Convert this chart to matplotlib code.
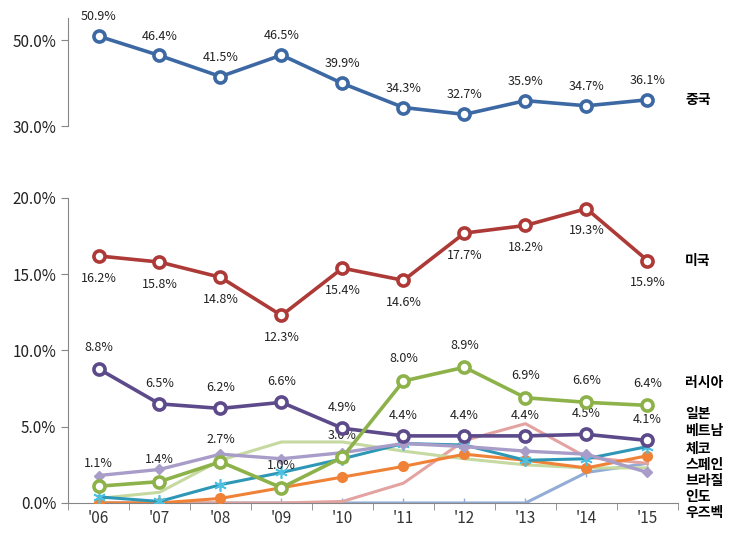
import matplotlib
matplotlib.use('Agg')
import matplotlib.pyplot as plt

plt.rcParams['font.family'] = ['Noto Sans CJK KR', 'DejaVu Sans']

# data (share of exports, %)
years = ["'06", "'07", "'08", "'09", "'10", "'11", "'12", "'13", "'14", "'15"]
china = [50.9, 46.4, 41.5, 46.5, 39.9, 34.3, 32.7, 35.9, 34.7, 36.1]
usa = [16.2, 15.8, 14.8, 12.3, 15.4, 14.6, 17.7, 18.2, 19.3, 15.9]
russia = [1.1, 1.4, 2.7, 1.0, 3.0, 8.0, 8.9, 6.9, 6.6, 6.4]
japan = [8.8, 6.5, 6.2, 6.6, 4.9, 4.4, 4.4, 4.4, 4.5, 4.1]
lavender = [1.8, 2.2, 3.2, 2.9, 3.3, 3.9, 3.7, 3.4, 3.2, 2.0]
teal = [0.4, 0.1, 1.2, 2.0, 2.9, 3.9, 3.8, 2.8, 2.9, 3.7]
orange = [0.0, 0.0, 0.3, 1.0, 1.7, 2.4, 3.2, 2.8, 2.3, 3.1]
lightgreen = [0.3, 0.7, 2.8, 4.0, 4.0, 3.4, 2.9, 2.5, 2.3, 2.3]
pink = [0.0, 0.0, 0.0, 0.0, 0.1, 1.3, 4.1, 5.2, 3.0, 2.6]
bluegray = [0.0, 0.0, 0.0, 0.0, 0.0, 0.0, 0.0, 0.0, 2.0, 2.6]

right_labels = ['러시아', '일본', '베트남', '체코', '스페인', '브라질', '인도', '우즈벡']
right_label_y = [7.9, 5.85, 4.72, 3.55, 2.5, 1.45, 0.4, -0.65]

x = list(range(len(years)))

fig = plt.figure(figsize=(7.32, 5.45), dpi=100)
ax_top = fig.add_axes([0.0929, 0.7688, 0.8333, 0.198])
ax = fig.add_axes([0.0929, 0.0771, 0.8333, 0.5596])

spine_c = '#868686'
circ = dict(marker='o', markersize=8, markerfacecolor='white', markeredgewidth=2.6)

# top panel: China
ax_top.plot(x, china, color='#3c68a3', lw=2.6, markeredgecolor='#3c68a3', **circ, zorder=5)
for xi, v in zip(x, china):
    ax_top.annotate(f'{v:.1f}%', (xi, v), xytext=(0, 14), textcoords='offset points',
                    ha='center', va='center', fontsize=9, color='#222222')
ax_top.text(9.62, china[-1], '중국', fontsize=10, fontweight='bold', va='center', ha='left')
ax_top.set_xlim(-0.5, 9.5)
ax_top.set_ylim(30, 55.1)
ax_top.set_yticks([30, 50])
ax_top.set_yticklabels(['30.0%', '50.0%'])
ax_top.set_xticks([])
for s in ['top', 'right', 'bottom']:
    ax_top.spines[s].set_visible(False)
ax_top.spines['left'].set_color(spine_c)

# lower panel: minor countries
ax.plot(x, bluegray, color='#93acd6', lw=2.2, marker='|', markersize=7, zorder=2)
ax.plot(x, pink, color='#e3a3a1', lw=2.2, zorder=2)
ax.plot(x, lightgreen, color='#c5d9a0', lw=2.2, zorder=2)
ax.plot(x, orange, color='#ef8236', lw=2.2, marker='o', markersize=7, zorder=3)
ax.plot(x, teal, color='#2f97b6', lw=2.2, marker=(6, 2, 0), markersize=9,
        markeredgewidth=1.2, markeredgecolor='#4bc0e0', zorder=3)
ax.plot(x, lavender, color='#a89cc8', lw=2.4, marker='D', markersize=5, zorder=3)

# USA, Japan, Russia
ax.plot(x, usa, color='#ad3a37', lw=2.6, markeredgecolor='#ad3a37', **circ, zorder=5)
ax.plot(x, japan, color='#5c4a8a', lw=2.6, markeredgecolor='#5c4a8a', **circ, zorder=5)
ax.plot(x, russia, color='#8db24a', lw=2.6, markeredgecolor='#8db24a', **circ, zorder=6)

for xi, v in zip(x, usa):
    ax.annotate(f'{v:.1f}%', (xi, v), xytext=(0, -16), textcoords='offset points',
                ha='center', va='center', fontsize=9, color='#222222')
for xi, v in zip(x, japan):
    ax.annotate(f'{v:.1f}%', (xi, v), xytext=(0, 15), textcoords='offset points',
                ha='center', va='center', fontsize=9, color='#222222')
for xi, v in zip(x, russia):
    ax.annotate(f'{v:.1f}%', (xi, v), xytext=(0, 16), textcoords='offset points',
                ha='center', va='center', fontsize=9, color='#222222')

ax.text(9.62, usa[-1], '미국', fontsize=10, fontweight='bold', va='center', ha='left')
for lbl, yy in zip(right_labels, right_label_y):
    ax.text(9.62, yy, lbl, fontsize=10, fontweight='bold', va='center', ha='left', clip_on=False)

ax.set_xlim(-0.5, 9.5)
ax.set_ylim(0, 20)
ax.set_yticks([0, 5, 10, 15, 20])
ax.set_yticklabels(['0.0%', '5.0%', '10.0%', '15.0%', '20.0%'])
ax.set_xticks(x)
ax.set_xticklabels(years)
ax.set_xticks([i + 0.5 for i in range(-1, 10)], minor=True)
ax.tick_params(axis='x', which='major', length=0, pad=5, labelsize=11, labelcolor='#333333')
ax.tick_params(axis='x', which='minor', length=5, color=spine_c)
for s in ['top', 'right']:
    ax.spines[s].set_visible(False)
ax.spines['left'].set_color(spine_c)
ax.spines['bottom'].set_color(spine_c)

for a in (ax, ax_top):
    a.tick_params(axis='y', length=5, color=spine_c, labelsize=11, labelcolor='#222222')

fig.savefig('out.png', dpi=100)
